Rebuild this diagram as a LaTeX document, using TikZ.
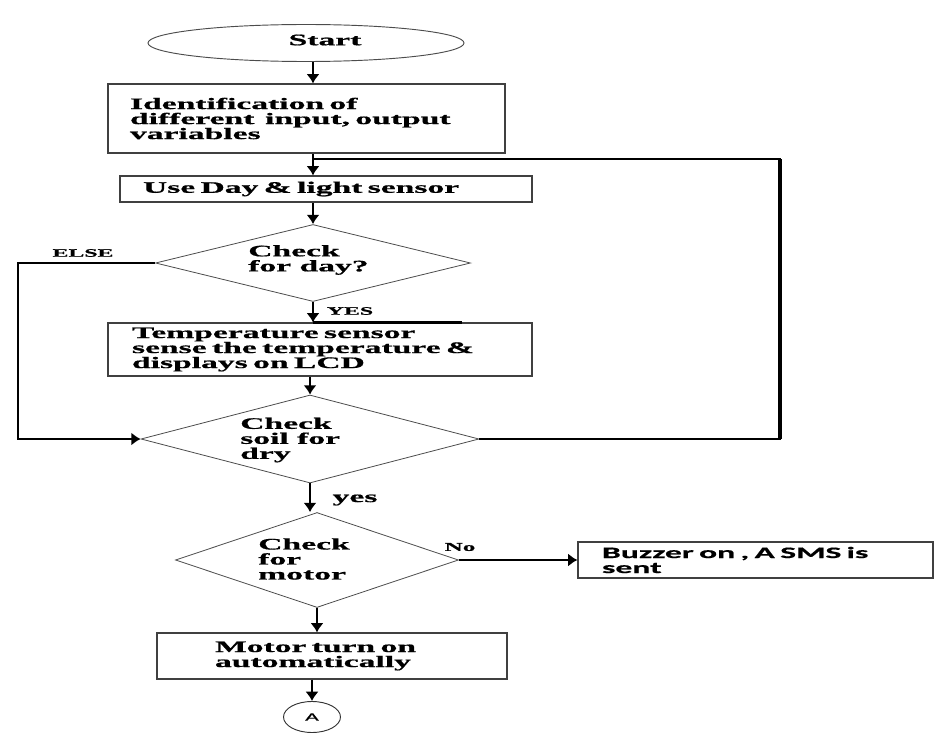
\documentclass[tikz,border=0pt]{standalone}
\usepackage{fontspec}
\newfontfamily\flowfont{Liberation Serif}[FakeStretch=2.1,FakeBold=0.8]
\newfontfamily\smsfont{Carlito}[FakeStretch=2.1,FakeBold=0.6]
\usepackage{tikz}
\usetikzlibrary{shapes.geometric}
\usetikzlibrary{arrows.meta}

\begin{document}
\begin{tikzpicture}[x=0.75pt, y=-0.75pt, >={Latex[length=7pt,width=10pt]},
        box/.style={draw=black!75, line width=0.9pt, rectangle, inner ysep=0pt, align=left,
            font=\flowfont\bfseries\fontsize{12}{11.25}\selectfont},
        dia/.style={draw=black!70, line width=0.6pt, diamond, inner sep=0pt},
        txt/.style={inner sep=0pt, align=left, font=\flowfont\bfseries\fontsize{12}{11.25}\selectfont},
        small/.style={inner sep=0pt, font=\flowfont\bfseries\fontsize{8.5}{9}\selectfont},
        flow/.style={->, line width=2.2pt},
        wire/.style={line width=1.4pt}]
            \useasboundingbox (0, 0) rectangle (943, 742);

            \node[ellipse, draw=black!70, line width=0.7pt, minimum width=237pt, minimum height=27.75pt, inner sep=0pt] (1) at (306, 43) {};
            \node[txt] (1t) at (325, 40) {Start};
            \node[box, minimum height=51.75pt, inner xsep=16.5pt, text width=264.75pt] (2) at (306.5, 118.5) {Identification of\\different\ \ input, output\\variables};
            \node[box, minimum height=19.5pt, inner xsep=17.25pt, text width=274.5pt] (3) at (326, 189) {Use Day \& light sensor};
            \node[dia, minimum width=236.25pt, minimum height=57.75pt] (4) at (313, 263) {};
            \node[txt, anchor=west] (4t) at (248, 260) {Check\\for day?};
            \node[box, minimum height=39.75pt, inner xsep=18pt, text width=282pt] (5) at (320, 349.5) {Temperature sensor\\sense the temperature \&\\displays on LCD};
            \node[dia, minimum width=253.5pt, minimum height=66pt] (6) at (310, 439) {};
            \node[txt, anchor=west] (6t) at (240, 440) {Check\\soil for\\dry};
            \node[dia, minimum width=212.25pt, minimum height=71.25pt] (7) at (317, 560) {};
            \node[txt, anchor=west] (7t) at (258, 559) {Check\\for\\motor};
            \node[box, font=\smsfont\bfseries\fontsize{12}{11.25}\selectfont, minimum height=27pt, inner xsep=18pt, text width=230.25pt] (8) at (755.5, 560) {Buzzer on , A SMS is\\sent};
            \node[box, minimum height=34.5pt, inner xsep=43.5pt, text width=175.5pt] (9) at (332, 656) {Motor turn on\\automatically};
            \node[ellipse, draw=black!80, line width=0.7pt, minimum width=42.75pt, minimum height=23.25pt, inner sep=0pt, font=\smsfont\fontsize{8.5}{9}\selectfont] (10) at (312, 717) {A};

            \node[small] (else) at (83, 253) {ELSE};
            \node[small] (yes1) at (350, 311) {YES};
            \node[txt] (yes2) at (355, 500) {yes};
            \node[small, font=\flowfont\bfseries\fontsize{9}{9}\selectfont] (no) at (460, 547) {No};

            \coordinate (j) at (313, 159);
            \coordinate (c1) at (18, 350);
            \coordinate (c2) at (780, 300);

            \draw[flow] (1.south -| 4.north) -- (2.north -| 4.north);
            \draw[flow] (2.south -| 4.north) -- (3.north -| 4.north);
            \draw[flow] (3.south -| 4.north) -- (4.north);
            \draw[flow] (4.south) -- (4.south |- 5.north);
            \draw[flow] (5.south -| 6.north) -- (6.north);
            \draw[flow] (6.south) -- (6.south |- 7.north);
            \draw[flow] (7.south) -- (7.south |- 9.north);
            \draw[flow] (9.south -| 10.north) -- (10.north);
            \draw[wire, ->] (7.east) -- (8.west);

            %else branch and soil loop
            \draw[wire, ->] (4.west) -| (c1) |- (6.west);
            \draw[wire] (6.east) -| (c2) |- (j);
            \draw[line width=3pt] (c2 |- 6.east) -- (c2 |- j);
            \draw[line width=2pt] (4.south |- 5.north) -- ++(149, 0);
        \end{tikzpicture}
\end{document}
